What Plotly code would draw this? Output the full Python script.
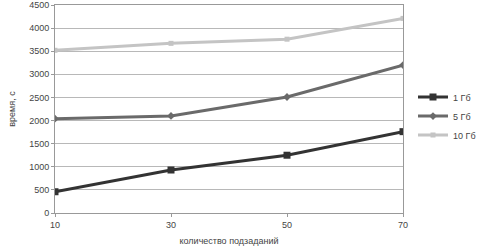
import plotly.graph_objects as go

subtasks = [10, 30, 50, 70]
series_names = ["1 Гб", "5 Гб", "10 Гб"]
t_1gb = [460, 930, 1250, 1760]
t_5gb = [2040, 2100, 2510, 3200]
t_10gb = [3520, 3670, 3760, 4210]
y_ticks = [0, 500, 1000, 1500, 2000, 2500, 3000, 3500, 4000, 4500]

colors = ["#333333", "#6a6a6a", "#c4c4c4"]
symbols = ["square", "diamond", "square"]
sizes = [7, 6, 5]

fig = go.Figure()
for name, vals, c, s, sz in zip(series_names, [t_1gb, t_5gb, t_10gb], colors, symbols, sizes):
    fig.add_trace(go.Scatter(x=subtasks, y=vals, name=name, mode="lines+markers",
                             line=dict(color=c, width=3),
                             marker=dict(color=c, symbol=s, size=sz)))

font = dict(family="Liberation Sans, Arial, sans-serif", size=9, color="#444444")
fig.update_layout(
    width=479, height=250,
    margin=dict(l=55, r=76, t=5, b=37, autoexpand=False),
    paper_bgcolor="white", plot_bgcolor="white",
    font=font,
    showlegend=True,
    legend=dict(x=1 + 10 / 348, xref="paper", y=0.466, xanchor="left", yanchor="middle",
                font=dict(size=9, color="#444444"), tracegroupgap=0,
                itemwidth=30, bgcolor="rgba(0,0,0,0)"),
    xaxis=dict(range=[10, 70], tickvals=subtasks, showgrid=False, automargin=False,
               showline=True, linecolor="#999999", linewidth=1, mirror=True,
               ticks="outside", ticklen=3, tickcolor="#999999",
               title=dict(text="количество подзаданий", standoff=8, font=dict(size=9)),
               zeroline=False),
    yaxis=dict(range=[0, 4500], tickvals=y_ticks, showgrid=True, gridcolor="#b8b8b8", gridwidth=1,
               automargin=False,
               showline=True, linecolor="#999999", linewidth=1, mirror=True,
               ticks="outside", ticklen=3, tickcolor="#999999",
               title=dict(text="время, с", standoff=12, font=dict(size=9)),
               zeroline=False),
)
fig.write_html("out.html", config={"displayModeBar": False},
               post_script="document.body.style.margin='0';document.body.style.overflow='hidden';")
